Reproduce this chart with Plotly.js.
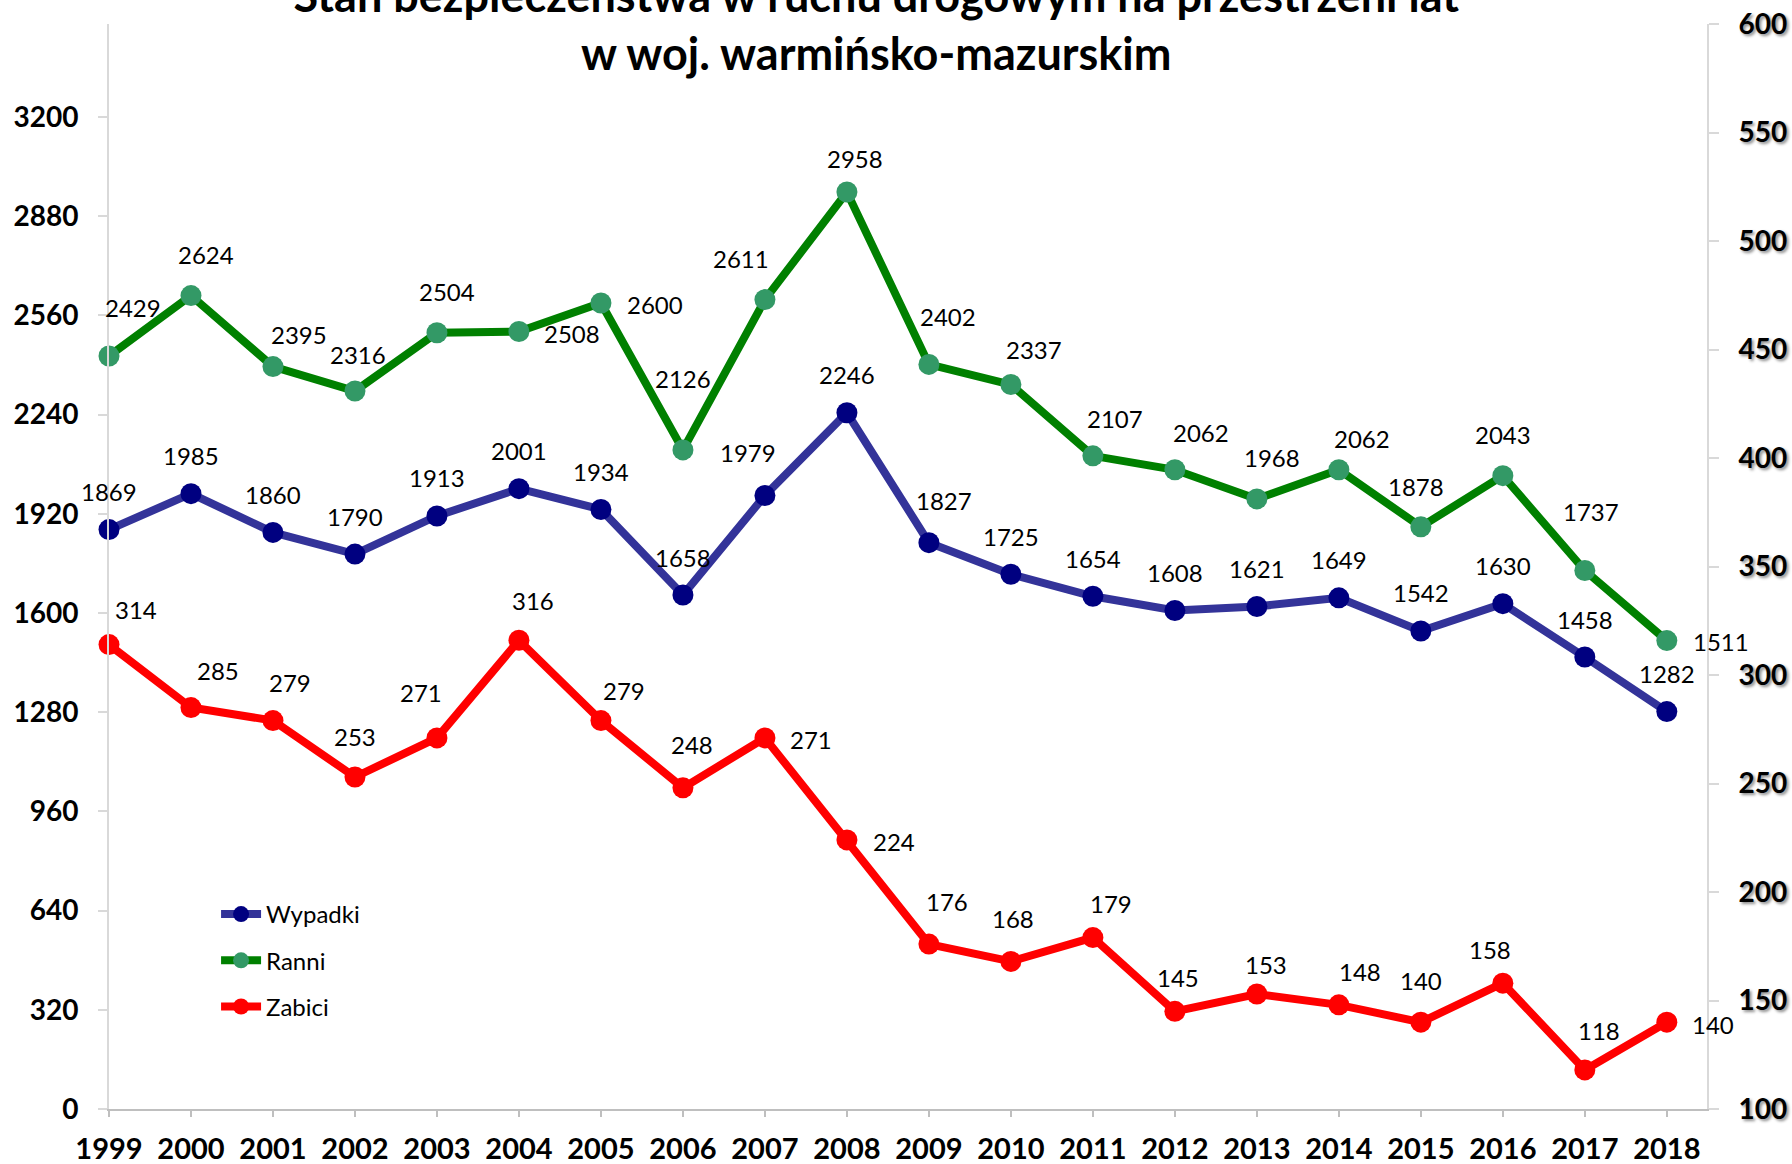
<!DOCTYPE html>
<html>
<head>
<meta charset="utf-8">
<script src="https://cdn.plot.ly/plotly-3.0.1.min.js"></script>
<style>
  body { margin: 0; background: #fff; }
  #chart { width: 1792px; height: 1164px; }
</style>
</head>
<body>
<div id="chart"></div>
<script>
// lata i wartości
var years = [1999, 2000, 2001, 2002, 2003, 2004, 2005, 2006, 2007, 2008,
             2009, 2010, 2011, 2012, 2013, 2014, 2015, 2016, 2017, 2018];
var wypadki = [1869, 1985, 1860, 1790, 1913, 2001, 1934, 1658, 1979, 2246,
               1827, 1725, 1654, 1608, 1621, 1649, 1542, 1630, 1458, 1282];
var ranni = [2429, 2624, 2395, 2316, 2504, 2508, 2600, 2126, 2611, 2958,
             2402, 2337, 2107, 2062, 1968, 2062, 1878, 2043, 1737, 1511];
var zabici = [314, 285, 279, 253, 271, 316, 279, 248, 271, 224,
              176, 168, 179, 145, 153, 148, 140, 158, 118, 140];

var leftTicks = [0, 320, 640, 960, 1280, 1600, 1920, 2240, 2560, 2880, 3200];

// przesunięcia etykiet (px) jak w oryginale
var shiftWypadki = years.map(function () { return [0, 38]; });
shiftWypadki[8] = [-17, 43];
shiftWypadki[10] = [15, 42];
var shiftRanni = [[24,49],[15,41],[26,32],[3,37],[10,41],[53,-2],[54,-1],[0,71],[-24,41],[8,34],
                  [19,48],[23,35],[22,37],[26,37],[15,41],[23,31],[-5,40],[0,41],[6,59],[54,-1]];
var shiftZabici = [[27,35],[27,37],[17,38],[0,40],[-16,45],[14,40],[23,30],[9,43],[46,-2],[47,-2],
                   [18,43],[2,43],[18,34],[3,34],[9,29],[21,33],[0,42],[-13,34],[14,39],[46,-2]];

var FONT = 'Lato, "Open Sans", sans-serif';

function labels(vals, yref, shifts) {
  return vals.map(function (v, i) {
    return {
      x: years[i], y: v, xref: 'x', yref: yref,
      text: String(v), showarrow: false,
      xshift: shifts[i][0], yshift: shifts[i][1],
      font: { family: FONT, size: 24, color: '#000' }
    };
  });
}

var traceWypadki = {
  x: years, y: wypadki, name: 'Wypadki', type: 'scatter', mode: 'lines+markers',
  line: { color: '#333399', width: 8 },
  marker: { color: '#000080', size: 21 },
  cliponaxis: false, legendgroup: 'a'
};
var traceRanni = {
  x: years, y: ranni, name: 'Ranni', type: 'scatter', mode: 'lines+markers',
  line: { color: '#008000', width: 8 },
  marker: { color: '#339966', size: 21 },
  cliponaxis: false, legendgroup: 'b'
};
var traceZabici = {
  x: years, y: zabici, name: 'Zabici', type: 'scatter', mode: 'lines+markers',
  yaxis: 'y2',
  line: { color: '#FF0000', width: 8 },
  marker: { color: '#FF0000', size: 21 },
  cliponaxis: false, legendgroup: 'c'
};

var layout = {
  width: 1792, height: 1164,
  margin: { l: 109, r: 85, t: 24, b: 55 },
  paper_bgcolor: '#fff', plot_bgcolor: '#fff',
  font: { family: FONT, color: '#000' },
  title: {
    text: '<b>Stan bezpieczeństwa w ruchu drogowym na przestrzeni lat<br>w woj. warmińsko-mazurskim</b>',
    font: { family: FONT, size: 45, color: '#000' },
    x: 0.489, xanchor: 'center',
    y: 0.99, yanchor: 'bottom', yref: 'container'
  },
  xaxis: {
    range: [1999, 2018.49],
    tickvals: years,
    showgrid: false, zeroline: false,
    showline: true, linecolor: '#BFBFBF', linewidth: 2,
    ticks: 'outside', ticklen: 6, tickcolor: '#BFBFBF', tickwidth: 2,
    tickfont: { family: FONT, size: 29, weight: 'bold' },
    ticklabelstandoff: 7
  },
  yaxis: {
    range: [0, 3500],
    tickvals: leftTicks,
    showgrid: false, zeroline: false,
    showline: true, linecolor: '#D9D9D9', linewidth: 2,
    ticks: 'outside', ticklen: 9, tickcolor: '#D9D9D9', tickwidth: 2,
    tickfont: { family: FONT, size: 28, weight: 'bold' },
    ticklabelstandoff: 14
  },
  yaxis2: {
    range: [100, 600], dtick: 50,
    overlaying: 'y', side: 'right',
    showgrid: false, zeroline: false,
    showline: true, linecolor: '#D9D9D9', linewidth: 2,
    ticks: 'outside', ticklen: 10, tickcolor: '#D9D9D9', tickwidth: 2,
    tickfont: { family: FONT, size: 28, weight: 'bold', shadow: '2px 2px 3px rgba(0,0,0,0.45)' },
    ticklabelstandoff: 14
  },
  legend: {
    x: 0.067, y: 0.2, xanchor: 'left', yanchor: 'top',
    font: { family: FONT, size: 24 },
    bgcolor: 'rgba(0,0,0,0)',
    tracegroupgap: 12, itemwidth: 40
  },
  annotations: [].concat(
    labels(wypadki, 'y', shiftWypadki),
    labels(ranni, 'y', shiftRanni),
    labels(zabici, 'y2', shiftZabici)
  )
};

Plotly.newPlot('chart', [traceWypadki, traceRanni, traceZabici], layout, { displayModeBar: false });
</script>
</body>
</html>
